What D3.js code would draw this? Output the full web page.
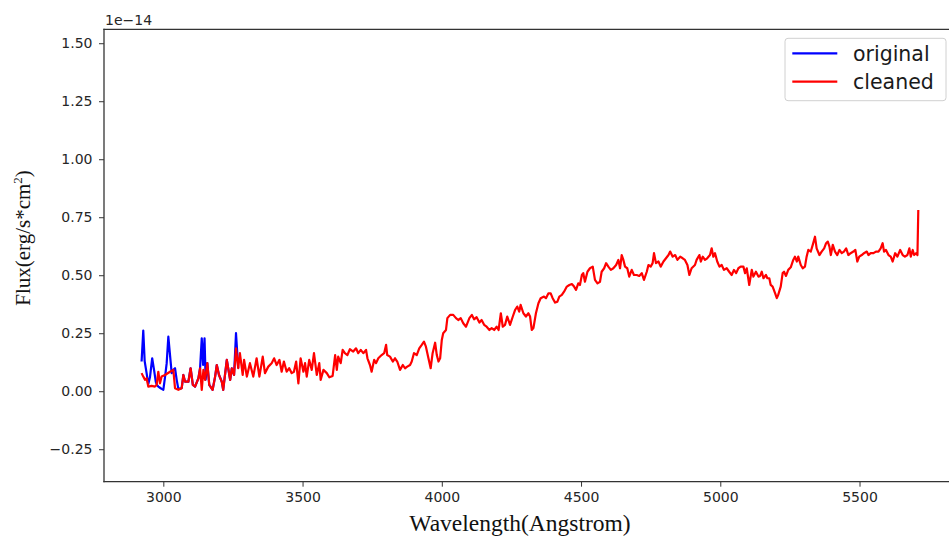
<!DOCTYPE html>
<html>
<head>
<meta charset="utf-8">
<script src="https://cdn.jsdelivr.net/npm/d3@7"></script>
<style>
  html, body { margin: 0; padding: 0; background: #fff; }
  svg { display: block; }
  .tick text { font-family: "DejaVu Sans", sans-serif; font-size: 14px; fill: #262626; }
  .tick line { stroke: #333; stroke-width: 1; }
</style>
</head>
<body>
<svg id="chart" width="949" height="538"></svg>
<script>
// Spectrum sampled in Angstrom; flux in units of 1e-14 erg/s/cm^2
const wavelength = [
  2922,2928,2934,2940,2946,2958,2970,2976,2982,2988,2994,3006,3024,3036,3042,3054,3066,3072,3078,3090,
  3098,3106,3114,3126,3132,3138,3144,3150,3158,3165,3177,3186,3192,3200,3210,3215,3228,3240,3246,3254,
  3261,3269,3275,3285,3290,3300,3311,3323,3335,3345,3357,3365,3377,3389,3398,3407,3417,3425,3433,3443,
  3452,3461,3469,3477,3485,3493,3503,3509,3515,3524,3533,3541,3551,3560,3565,3575,3587,3596,3608,3617,
  3623,3628,3637,3644,3652,3661,3670,3682,3692,3700,3709,3718,3728,3733,3742,3748,3757,3764,3772,3784,
  3793,3800,3804,3814,3824,3832,3840,3850,3860,3868,3876,3886,3892,3900,3910,3919,3928,3936,3943,3952,
  3960,3967,3976,3982,3988,3994,4000,4005,4015,4020,4030,4041,4051,4059,4068,4077,4087,4099,4108,4116,
  4125,4135,4143,4152,4161,4171,4179,4188,4197,4204,4212,4219,4227,4235,4245,4255,4263,4271,4278,4283,
  4293,4302,4311,4317,4323,4329,4338,4347,4355,4367,4374,4383,4391,4398,4407,4415,4422,4431,4439,4449,
  4458,4467,4475,4482,4490,4496,4503,4508,4514,4523,4532,4542,4550,4559,4568,4574,4583,4590,4598,4607,
  4616,4626,4634,4640,4646,4652,4658,4666,4673,4682,4690,4700,4709,4718,4726,4736,4742,4750,4757,4762,
  4769,4778,4786,4796,4805,4814,4820,4829,4838,4846,4856,4865,4873,4882,4889,4897,4909,4915,4925,4930,
  4937,4945,4953,4963,4969,4975,4981,4989,4997,5005,5013,5023,5032,5041,5049,5057,5065,5073,5083,5089,
  5095,5104,5113,5119,5128,5137,5143,5149,5155,5164,5169,5176,5181,5188,5197,5203,5208,5217,5224,5229,
  5236,5244,5253,5262,5268,5275,5280,5289,5296,5304,5310,5316,5325,5332,5340,5346,5356,5364,5373,5380,
  5386,5392,5397,5404,5412,5420,5428,5436,5444,5452,5460,5468,5478,5485,5492,5499,5508,5516,5526,5532,
  5540,5550,5559,5568,5576,5583,5588,5595,5604,5612,5619,5628,5636,5646,5655,5663,5672,5679,5684,5691,
  5696,5703,5708,5711
];

const cleanedFlux = [
  0.078,0.063,0.049,0.056,0.020,0.023,0.020,0.027,0.084,0.034,0.063,0.070,0.084,0.092,0.013,0.006,0.013,0.070,0.041,0.041,
  0.099,0.027,0.020,0.056,0.099,0.006,0.092,0.049,0.121,0.027,0.006,0.063,0.113,0.070,0.041,0.006,0.135,0.049,0.099,0.070,
  0.185,0.099,0.164,0.070,0.135,0.063,0.121,0.063,0.142,0.063,0.149,0.078,0.106,0.121,0.142,0.113,0.135,0.084,0.128,0.084,
  0.099,0.078,0.084,0.128,0.034,0.142,0.084,0.121,0.063,0.135,0.092,0.164,0.070,0.121,0.049,0.092,0.078,0.060,0.066,0.156,
  0.092,0.149,0.121,0.178,0.164,0.156,0.181,0.171,0.185,0.164,0.178,0.164,0.178,0.142,0.113,0.084,0.135,0.121,0.142,0.156,
  0.164,0.200,0.156,0.149,0.128,0.142,0.128,0.092,0.113,0.099,0.106,0.113,0.128,0.164,0.156,0.185,0.200,0.214,0.192,0.142,
  0.099,0.164,0.209,0.156,0.128,0.142,0.221,0.250,0.264,0.315,0.329,0.329,0.315,0.307,0.315,0.293,0.278,0.315,0.329,0.310,
  0.319,0.296,0.307,0.286,0.278,0.264,0.272,0.264,0.278,0.264,0.336,0.278,0.286,0.322,0.286,0.322,0.350,0.365,0.343,0.372,
  0.336,0.322,0.336,0.322,0.264,0.272,0.336,0.379,0.401,0.408,0.401,0.422,0.422,0.401,0.382,0.386,0.408,0.415,0.429,0.451,
  0.458,0.462,0.451,0.437,0.465,0.458,0.501,0.509,0.472,0.515,0.530,0.537,0.480,0.465,0.472,0.515,0.530,0.552,0.537,0.523,
  0.530,0.544,0.566,0.530,0.587,0.566,0.537,0.530,0.494,0.523,0.501,0.501,0.497,0.509,0.480,0.515,0.544,0.537,0.552,0.595,
  0.552,0.559,0.537,0.559,0.573,0.587,0.602,0.580,0.587,0.566,0.580,0.573,0.566,0.544,0.501,0.530,0.544,0.566,0.587,0.559,
  0.580,0.566,0.573,0.587,0.616,0.580,0.595,0.559,0.537,0.544,0.523,0.530,0.515,0.501,0.523,0.509,0.530,0.537,0.537,0.509,
  0.530,0.458,0.523,0.494,0.515,0.494,0.497,0.515,0.487,0.501,0.487,0.487,0.458,0.451,0.422,0.401,0.415,0.451,0.509,0.515,
  0.497,0.523,0.534,0.566,0.580,0.559,0.580,0.544,0.530,0.537,0.580,0.609,0.602,0.631,0.666,0.616,0.587,0.602,0.616,0.638,
  0.645,0.623,0.587,0.631,0.602,0.587,0.609,0.595,0.602,0.616,0.587,0.595,0.602,0.609,0.559,0.580,0.587,0.595,0.602,0.587,
  0.595,0.595,0.602,0.602,0.616,0.638,0.602,0.609,0.587,0.580,0.559,0.595,0.580,0.609,0.587,0.580,0.587,0.616,0.580,0.609,
  0.587,0.595,0.587,0.781
];

// Blue end of the raw spectrum, before cosmic-ray spikes were removed;
// redward of this range the raw and cleaned spectra are identical
const originalWave = [
  2922,2928,2933,2940,2946,2952,2960,2967,2973,2977,2982,2988,2994,3000,3006,3012,3018,3024,3030,3036,
  3042,3048,3054,3066,3072,3078,3090,3098,3106,3114,3126,3132,3138,3143,3148,3152,3158,3165,3177,3186,
  3192,3200,3210,3215,3228,3240,3246,3254,3261,3269
];
const originalFlux = [
  0.128,0.261,0.130,0.078,0.030,0.060,0.142,0.090,0.040,0.027,0.020,0.015,0.010,0.006,0.060,0.120,0.235,0.157,0.078,0.092,
  0.099,0.049,0.010,0.013,0.070,0.041,0.041,0.099,0.027,0.020,0.056,0.099,0.228,0.113,0.228,0.050,0.121,0.027,0.006,0.063,
  0.113,0.070,0.041,0.006,0.135,0.049,0.099,0.070,0.250,0.099
];

const xTicks = [3000, 3500, 4000, 4500, 5000, 5500];
const yTicks = [-0.25, 0, 0.25, 0.5, 0.75, 1.0, 1.25, 1.5];
const seriesNames = ["original", "cleaned"];
const seriesColors = ["#0000ff", "#ff0000"];

// Build point tables
const cleaned = wavelength.map((w, i) => ({ w, f: cleanedFlux[i] }));
const original = originalWave.map((w, i) => ({ w, f: originalFlux[i] }));

const svg = d3.select("#chart");
const plotLeft = 104, plotRight = 957, plotTop = 29.3, plotBottom = 481.7;

const x = d3.scaleLinear().domain([2787, 5850]).range([plotLeft, plotRight]);
const y = d3.scaleLinear().domain([-0.39, 1.56]).range([plotBottom, plotTop]);

svg.append("defs").append("clipPath").attr("id", "plot-clip")
  .append("rect").attr("x", plotLeft).attr("y", plotTop)
  .attr("width", plotRight - plotLeft).attr("height", plotBottom - plotTop);

const line = d3.line().x(d => x(d.w)).y(d => y(d.f));

const plot = svg.append("g").attr("clip-path", "url(#plot-clip)");
[original, cleaned].forEach((data, i) => {
  plot.append("path")
    .datum(data)
    .attr("fill", "none")
    .attr("stroke", seriesColors[i])
    .attr("stroke-width", 2.2)
    .attr("stroke-linejoin", "round")
    .attr("d", line);
});

// Axes
const xAxis = svg.append("g")
  .attr("transform", `translate(0,${plotBottom})`)
  .call(d3.axisBottom(x).tickValues(xTicks).tickFormat(d3.format("d")).tickSize(5).tickPadding(5));
xAxis.select(".domain").remove();

const yAxis = svg.append("g")
  .attr("transform", `translate(${plotLeft},0)`)
  .call(d3.axisLeft(y).tickValues(yTicks).tickFormat(d3.format(".2f")).tickSize(5).tickPadding(6.5));
yAxis.select(".domain").remove();

// Frame
[[plotLeft, plotTop, plotLeft, plotBottom], [plotLeft, plotBottom, plotRight, plotBottom],
 [plotLeft, plotTop, plotRight, plotTop], [plotRight, plotTop, plotRight, plotBottom]]
  .forEach(([x1, y1, x2, y2]) => {
    svg.append("line").attr("x1", x1).attr("y1", y1).attr("x2", x2).attr("y2", y2)
      .attr("stroke", "#333").attr("stroke-width", 1.3)
      .attr("stroke-linecap", "square");
  });

// Offset label
svg.append("text")
  .attr("x", plotLeft + 1).attr("y", 25)
  .attr("font-family", "DejaVu Sans, sans-serif").attr("font-size", 14)
  .attr("fill", "#262626")
  .text("1e\u221214");

// Axis titles
svg.append("text")
  .attr("x", 520).attr("y", 531)
  .attr("text-anchor", "middle")
  .attr("font-family", "Liberation Serif, Times New Roman, serif")
  .attr("font-size", 23.5)
  .attr("fill", "#111")
  .text("Wavelength(Angstrom)");

const yTitle = svg.append("text")
  .attr("transform", "translate(30,238) rotate(-90)")
  .attr("text-anchor", "middle")
  .attr("font-family", "Liberation Serif, Times New Roman, serif")
  .attr("font-size", 21)
  .attr("fill", "#111");
yTitle.append("tspan").text("Flux(erg/s*cm");
yTitle.append("tspan").attr("font-size", 13).attr("dy", -8).text("2");
yTitle.append("tspan").attr("dy", 8).text(")");

// Legend
const legend = svg.append("g");
legend.append("rect")
  .attr("x", 785).attr("y", 38.3).attr("width", 161).attr("height", 62.4)
  .attr("rx", 3).attr("fill", "#fff").attr("fill-opacity", 0.8)
  .attr("stroke", "#d0d0d0").attr("stroke-width", 1);
seriesNames.forEach((name, i) => {
  const yy = 53.3 + i * 28.4;
  legend.append("line")
    .attr("x1", 792.3).attr("x2", 837.3).attr("y1", yy).attr("y2", yy)
    .attr("stroke", seriesColors[i]).attr("stroke-width", 2.2);
  legend.append("text")
    .attr("x", 853).attr("y", yy + 7.5)
    .attr("font-family", "DejaVu Sans, sans-serif").attr("font-size", 20.5)
    .attr("fill", "#1a1a1a")
    .text(name);
});
</script>
</body>
</html>
